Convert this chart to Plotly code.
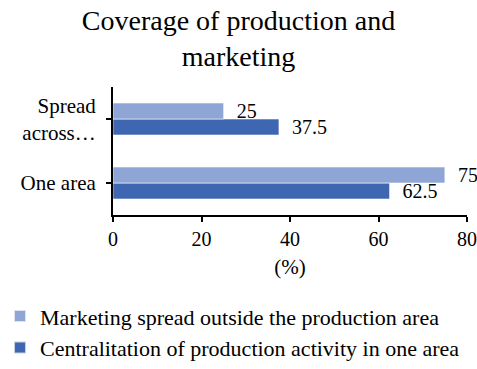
import plotly.graph_objects as go

categories = ["One area", "Spread across…"]
tick_text = ["One area", "Spread<br>across…"]
marketing_outside = [75, 25]
centralised = [62.5, 37.5]
series_names = [
    "Centralitation of production activity in one area",
    "Marketing spread outside the production area",
]
x_ticks = [0, 20, 40, 60, 80]

FONT = "Liberation Serif"
LIGHT = "#8FA5D6"
DARK = "#3F66B0"

fig = go.Figure()
fig.add_trace(go.Bar(
    y=categories, x=centralised, orientation="h", name=series_names[0],
    marker=dict(color=DARK, line=dict(color="rgba(255,255,255,0.7)", width=0.8)),
    text=centralised, texttemplate="  %{x}", textposition="outside",
    constraintext="none",
    textfont=dict(family=FONT, size=20, color="black"), cliponaxis=False,
))
fig.add_trace(go.Bar(
    y=categories, x=marketing_outside, orientation="h", name=series_names[1],
    marker=dict(color=LIGHT, line=dict(color="rgba(255,255,255,0.7)", width=0.8)),
    text=marketing_outside, texttemplate="  %{x}", textposition="outside",
    constraintext="none",
    textfont=dict(family=FONT, size=20, color="black"), cliponaxis=False,
))

fig.update_layout(
    width=477, height=369,
    margin=dict(l=113, r=10, t=87, b=154, autoexpand=False),
    paper_bgcolor="white", plot_bgcolor="white",
    font=dict(family=FONT, size=20, color="black"),
    barmode="group", bargap=0.5, bargroupgap=0,
    title=dict(text="Coverage of production and<br>marketing", x=0.5, xref="container",
               xanchor="center", y=0.92, yref="container", yanchor="top",
               font=dict(family=FONT, size=28, color="black")),
    xaxis=dict(range=[0, 80], tickvals=x_ticks, showgrid=False, zeroline=False,
               showline=True, linecolor="black", linewidth=2,
               ticks="outside", ticklen=5, tickwidth=2, tickcolor="black",
               title=dict(text="(%)", font=dict(family=FONT, size=21), standoff=10),
               tickfont=dict(family=FONT, size=20)),
    yaxis=dict(categoryorder="array", categoryarray=categories,
               tickvals=categories, ticktext=tick_text,
               showgrid=False, zeroline=False,
               showline=True, linecolor="black", linewidth=2,
               ticks="outside", ticklen=5, tickwidth=2, tickcolor="black",
               ticklabelstandoff=6,
               tickfont=dict(family=FONT, size=21)),
    showlegend=True,
    legend=dict(traceorder="reversed", xref="container", yref="container",
                x=0.0, y=0.2, xanchor="left", yanchor="top",
                font=dict(family=FONT, size=22), itemsizing="constant",
                itemwidth=30, tracegroupgap=10),
)

fig.write_html("out.html")
